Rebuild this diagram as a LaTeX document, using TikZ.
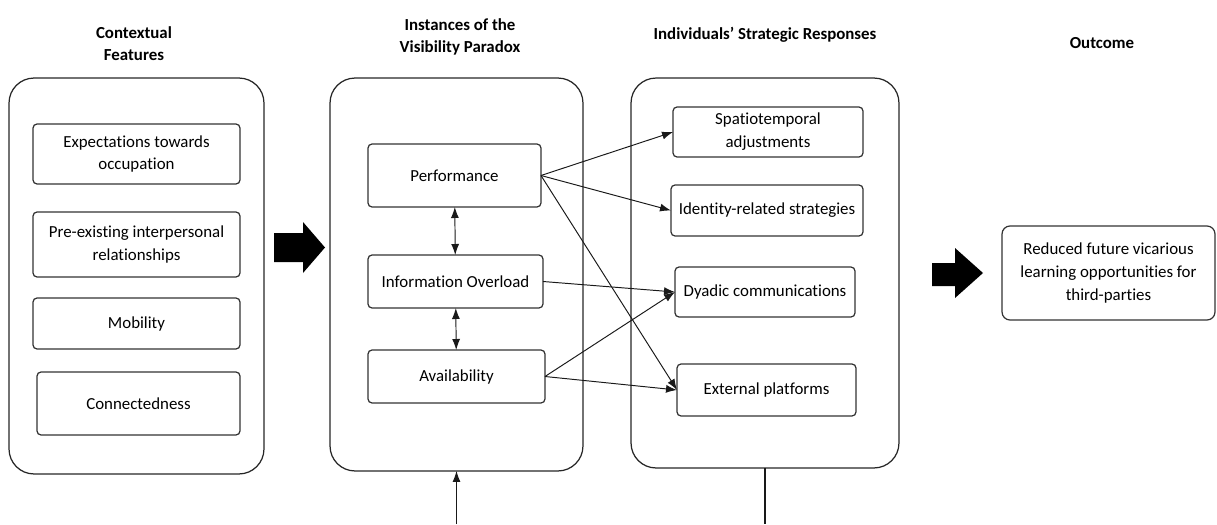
\documentclass[tikz,border=0pt]{standalone}
\usepackage{fontspec}
\setmainfont{Carlito}[Ligatures=NoCommon]
\usetikzlibrary{arrows.meta}

\begin{document}
\begin{tikzpicture}[
                x=0.02cm, y=-0.02cm,
                >={Latex[length=2.2mm,width=1.6mm]},
                every node/.style={font=\fontsize{9.6}{13}\selectfont,align=center,inner sep=0pt,outer sep=0pt},
                group/.style 2 args={draw=black!85,line width=0.7pt,rounded corners=0.5cm,minimum width=#1,minimum height=#2},
                item/.style 2 args={draw=black!80,line width=0.7pt,rounded corners=0.08cm,minimum width=#1,minimum height=#2},
                heading/.style={font=\fontsize{9.6}{12.5}\selectfont\bfseries},
                link/.style={->,line width=0.55pt,black!90}
            ]
                \useasboundingbox (0,0) rectangle (1217,524);

                % column headings
                \node[heading] (hctx) at (134,44) {Contextual\\Features};
                \node[heading] (hvis) at (460,37) {Instances of the\\Visibility Paradox};
                \node[heading] (hresp) at (765,35) {Individuals' Strategic Responses};
                \node[heading] (hout) at (1102,43) {Outcome};

                % the three large groups
                \node[group={5.10cm}{7.92cm}] (ctx) at (136.5,276) {};
                \node[group={5.06cm}{7.86cm}] (vis) at (456.5,274.5) {};
                \node[group={5.36cm}{7.80cm}] (resp) at (765,273) {};

                % contextual features
                \node[item={4.14cm}{1.20cm}] (expect) at (136.5,154) {Expectations towards\\occupation};
                \node[item={4.14cm}{1.30cm}] (preexist) at (136.5,244.5) {Pre-existing interpersonal\\relationships};
                \node[item={4.14cm}{1.02cm}] (mobility) at (136.5,323.5) {Mobility};
                \node[item={4.06cm}{1.26cm}] (connect) at (138.5,403.5) {Connectedness};

                % instances
                \node[item={3.46cm}{1.26cm}] (perf) at (454.5,175.5) {Performance};
                \node[item={3.50cm}{1.06cm}] (overload) at (455.5,281.5) {Information Overload};
                \node[item={3.54cm}{1.06cm}] (avail) at (456.5,376.5) {Availability};

                % responses
                \node[item={3.80cm}{1.00cm}] (spatio) at (768,132) {Spatiotemporal\\adjustments};
                \node[item={3.84cm}{1.02cm}] (identity) at (767,210.5) {Identity-related strategies};
                \node[item={3.60cm}{1.00cm}] (dyadic) at (765,292) {Dyadic communications};
                \node[item={3.58cm}{1.04cm}] (external) at (766.5,390) {External platforms};

                % outcome
                \node[item={4.26cm}{1.88cm},rounded corners=0.16cm] (outcome) at (1108.5,273) {Reduced future vicarious\\learning opportunities for\\third-parties};

                % block arrows between the columns
                \fill (274,233) -- (303,233) -- (303,222) -- (325,247.5) -- (303,273) -- (303,262) -- (274,262) -- cycle;
                \fill (932,263) -- (955,263) -- (955,248) -- (983,273) -- (955,298) -- (955,286) -- (932,286) -- cycle;

                \draw[link,<->] (perf) -- (overload);
                \draw[link,<->] (overload) -- (avail);

                \draw[link] (perf.east) -- (spatio.west);
                \draw[link] (perf.east) -- (identity.west);
                \draw[link] (perf.east) -- (external.west);
                \draw[link] (overload.east) -- (dyadic.west);
                \draw[link] (avail.east) -- (dyadic.west);
                \draw[link] (avail.east) -- (external.west);

                % lines leaving the bottom edge
                \coordinate (bottom) at (0,524);
                \coordinate (visfoot) at (vis.south |- bottom);
                \coordinate (respfoot) at (resp.south |- bottom);
                \draw[link] (visfoot) -- (vis.south);
                \draw[line width=0.7pt,black!90] (resp.south) -- (respfoot);
            \end{tikzpicture}
\end{document}
